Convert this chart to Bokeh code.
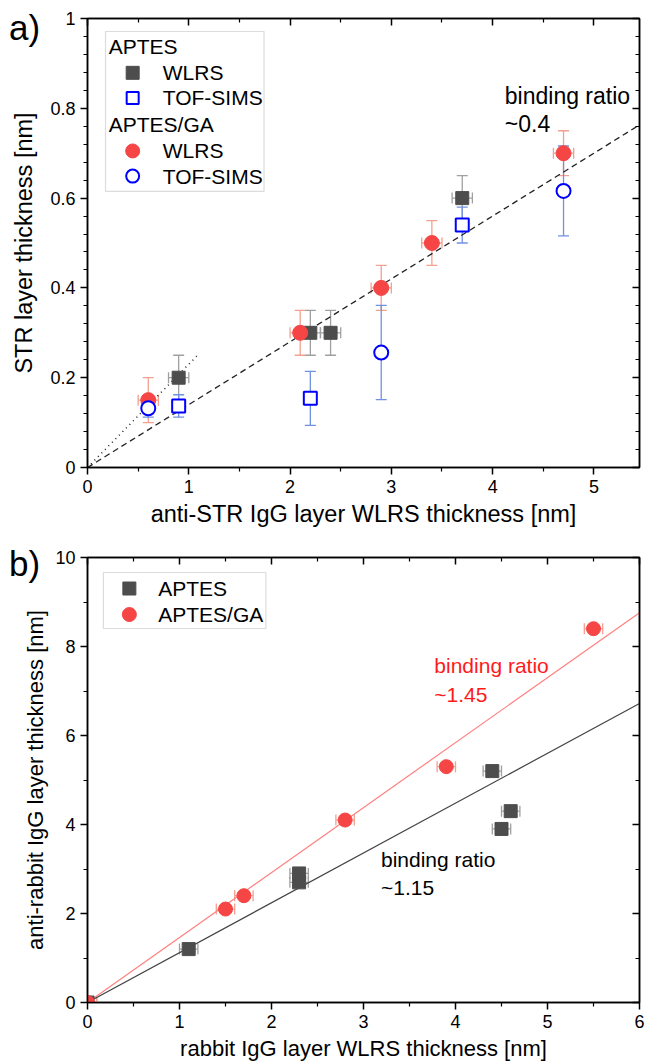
from bokeh.plotting import figure
from bokeh.models import (ColumnDataSource, Whisker, TeeHead, LinearAxis, FixedTicker,
                          Label, BoxAnnotation, Range1d, CustomJSTickFormatter, Div)
from bokeh.layouts import column
from bokeh.embed import file_html
from bokeh.resources import INLINE

FONT = "Liberation Sans"

# ---------------- Panel a data ----------------
aptes_wlrs_x = [0.9, 2.2, 2.4, 3.7]
aptes_wlrs_y = [0.2, 0.3, 0.3, 0.6]
aptes_wlrs_xerr = [0.1, 0.1, 0.1, 0.1]
aptes_wlrs_yerr = [0.05, 0.05, 0.05, 0.05]

aptes_tof_x = [0.9, 2.2, 3.7]
aptes_tof_y = [0.137, 0.154, 0.54]
aptes_tof_yerr = [0.025, 0.06, 0.04]

ga_wlrs_x = [0.6, 2.1, 2.9, 3.4, 4.7]
ga_wlrs_y = [0.15, 0.3, 0.4, 0.5, 0.7]
ga_wlrs_xerr = [0.1, 0.1, 0.1, 0.1, 0.1]
ga_wlrs_yerr = [0.05, 0.05, 0.05, 0.05, 0.05]

ga_tof_x = [0.6, 2.9, 4.7]
ga_tof_y = [0.132, 0.256, 0.616]
ga_tof_yerr = [0.02, 0.105, 0.1]

fit_a_x = [0.0, 5.45]
fit_a_y = [0.0, 0.763]
fit_a2_x = [0.0, 1.1]
fit_a2_y = [0.0, 0.253]

a_xticks = [0, 1, 2, 3, 4, 5]
a_xminor = [0.5, 1.5, 2.5, 3.5, 4.5]
a_yticks = [0, 0.2, 0.4, 0.6, 0.8, 1.0]
a_yminor = [0.04, 0.08, 0.12, 0.16, 0.24, 0.28, 0.32, 0.36, 0.44, 0.48, 0.52, 0.56,
            0.64, 0.68, 0.72, 0.76, 0.84, 0.88, 0.92, 0.96]

# ---------------- Panel b data ----------------
aptes_b_x = [0.0, 1.1, 2.3, 2.3, 4.4, 4.5, 4.6]
aptes_b_y = [0.0, 1.2, 2.7, 2.9, 5.2, 3.9, 4.3]
aptes_b_xerr = [0.1, 0.1, 0.1, 0.1, 0.1, 0.1, 0.1]

ga_b_x = [0.0, 1.5, 1.7, 2.8, 3.9, 5.5]
ga_b_y = [0.0, 2.1, 2.4, 4.1, 5.3, 8.4]
ga_b_xerr = [0.1, 0.1, 0.1, 0.1, 0.1, 0.1]

fit_b_ga_x = [0.0, 6.0]
fit_b_ga_y = [0.0, 8.76]
fit_b_ap_x = [0.0, 6.0]
fit_b_ap_y = [0.0, 6.72]

b_xticks = [0, 1, 2, 3, 4, 5, 6]
b_xminor = [0.5, 1.5, 2.5, 3.5, 4.5, 5.5]
b_yticks = [0, 2, 4, 6, 8, 10]
b_yminor = [1, 3, 5, 7, 9]

GRAY = "#4d4d4d"
GRAY_ERR = "#a0a0a0"
RED = "#f54545"
RED_ERR = "#f2a090"
BLUE = "#0000ff"
BLUE_ERR = "#7090e0"


def style(p, xticks, xminor, yticks, yminor, xlabel, ylabel, title_size, ystandoff):
    xt = FixedTicker(ticks=xticks, minor_ticks=xminor)
    yt = FixedTicker(ticks=yticks, minor_ticks=yminor)
    xa = p.below[0]
    ya = p.left[0]
    xa.ticker = xt
    ya.ticker = yt
    for ax in (xa, ya):
        ax.axis_line_width = 1.5
        ax.major_tick_line_width = 1.5
        ax.minor_tick_line_width = 1.2
        ax.major_tick_in = 0
        ax.major_tick_out = 7
        ax.minor_tick_in = 0
        ax.minor_tick_out = 4
        ax.major_label_text_font = FONT
        ax.major_label_text_font_size = "18px"
        ax.major_label_text_color = "black"
        ax.major_label_standoff = 5
        ax.axis_label_text_font = FONT
        ax.axis_label_text_font_size = title_size
        ax.axis_label_text_font_style = "normal"
        ax.axis_label_text_color = "black"
        ax.axis_label_standoff = 5
    ya.axis_label_standoff = ystandoff
    xa.axis_label = xlabel
    ya.axis_label = ylabel
    for tk, place in ((xt, "above"), (yt, "right")):
        ax = LinearAxis(ticker=tk, formatter=CustomJSTickFormatter(code="return ''"))
        ax.major_label_standoff = 0
        ax.axis_line_width = 1.5
        ax.major_tick_line_width = 1.5
        ax.minor_tick_line_width = 1.2
        ax.major_tick_in = 7
        ax.major_tick_out = 0
        ax.minor_tick_in = 4
        ax.minor_tick_out = 0
        p.add_layout(ax, place)
    p.grid.visible = False
    p.outline_line_color = "black"
    p.outline_line_width = 1.5


def yerr(p, xs, ys, es, color):
    src = ColumnDataSource(dict(x=xs, lo=[y - e for y, e in zip(ys, es)],
                                hi=[y + e for y, e in zip(ys, es)]))
    p.add_layout(Whisker(source=src, base="x", lower="lo", upper="hi", dimension="height",
                         line_color=color, line_width=1.3,
                         upper_head=TeeHead(size=11, line_color=color, line_width=1.3),
                         lower_head=TeeHead(size=11, line_color=color, line_width=1.3)))


def xerr(p, xs, ys, es, color):
    src = ColumnDataSource(dict(y=ys, lo=[x - e for x, e in zip(xs, es)],
                                hi=[x + e for x, e in zip(xs, es)]))
    p.add_layout(Whisker(source=src, base="y", lower="lo", upper="hi", dimension="width",
                         line_color=color, line_width=1.3,
                         upper_head=TeeHead(size=11, line_color=color, line_width=1.3),
                         lower_head=TeeHead(size=11, line_color=color, line_width=1.3)))


def label(p, x, y, text, size, color="black"):
    p.add_layout(Label(x=x, y=y, text=text, text_font=FONT, text_font_size=size,
                       text_color=color, text_baseline="middle", text_align="left"))


def panel_tag(text, left, top):
    return Div(text=text, width=44, height=38,
               styles={"position": "absolute", "left": f"{left}px", "top": f"{top}px",
                       "font-family": FONT, "font-size": "35px", "line-height": "1",
                       "color": "black", "z-index": "10", "margin": "0", "padding": "0"})


# ================= Panel a =================
pa = figure(width=648, height=538, x_range=Range1d(0, 5.45), y_range=Range1d(0, 1),
            output_backend="svg", toolbar_location=None,
            min_border_left=87, min_border_right=9, min_border_top=18, min_border_bottom=71)
style(pa, a_xticks, a_xminor, a_yticks, a_yminor,
      "anti-STR IgG layer WLRS thickness [nm]", "STR layer thickness [nm]", "23.5px", 10)
pa.below[0].major_label_overrides = {0: "0", 1: "1", 2: "2", 3: "3", 4: "4", 5: "5"}
pa.left[0].major_label_overrides = {0: "0", 1: "1"}

pa.line(fit_a_x, fit_a_y, line_color="#222222", line_width=1.3, line_dash="6 4")
pa.line(fit_a2_x, fit_a2_y, line_color="#222222", line_width=1.5, line_dash="1 4")

yerr(pa, aptes_wlrs_x, aptes_wlrs_y, aptes_wlrs_yerr, GRAY_ERR)
xerr(pa, aptes_wlrs_x, aptes_wlrs_y, aptes_wlrs_xerr, GRAY_ERR)
yerr(pa, aptes_tof_x, aptes_tof_y, aptes_tof_yerr, BLUE_ERR)
yerr(pa, ga_wlrs_x, ga_wlrs_y, ga_wlrs_yerr, RED_ERR)
xerr(pa, ga_wlrs_x, ga_wlrs_y, ga_wlrs_xerr, RED_ERR)
yerr(pa, ga_tof_x, ga_tof_y, ga_tof_yerr, BLUE_ERR)

pa.scatter(aptes_wlrs_x, aptes_wlrs_y, marker="square", size=13, fill_color=GRAY, line_color=GRAY)
pa.scatter(aptes_tof_x, aptes_tof_y, marker="square", size=13, fill_color="white",
           line_color=BLUE, line_width=2)
pa.scatter(ga_wlrs_x, ga_wlrs_y, marker="circle", size=15, fill_color=RED, line_color=RED)
pa.scatter(ga_tof_x, ga_tof_y, marker="circle", size=14, fill_color="white",
           line_color=BLUE, line_width=2)

# legend a (manual)
box_a = BoxAnnotation(left=0.178, right=1.743, top=0.971, bottom=0.615, fill_color="white",
                      fill_alpha=1, line_color="#8a8a8a", line_width=1.2, level="underlay")
pa.add_layout(box_a)
leg_a_rows = [0.937, 0.879, 0.823, 0.763, 0.705, 0.649]
label(pa, 0.21, leg_a_rows[0], "APTES", "21px")
pa.scatter([0.446], [leg_a_rows[1]], marker="square", size=13, fill_color=GRAY, line_color=GRAY)
label(pa, 0.743, leg_a_rows[1], "WLRS", "21px")
pa.scatter([0.446], [leg_a_rows[2]], marker="square", size=12, fill_color="white",
           line_color=BLUE, line_width=2)
label(pa, 0.743, leg_a_rows[2], "TOF-SIMS", "21px")
label(pa, 0.21, leg_a_rows[3], "APTES/GA", "21px")
pa.scatter([0.446], [leg_a_rows[4]], marker="circle", size=14, fill_color=RED, line_color=RED)
label(pa, 0.743, leg_a_rows[4], "WLRS", "21px")
pa.scatter([0.446], [leg_a_rows[5]], marker="circle", size=13, fill_color="white",
           line_color=BLUE, line_width=2)
label(pa, 0.743, leg_a_rows[5], "TOF-SIMS", "21px")

label(pa, 4.12, 0.827, "binding ratio", "23px")
label(pa, 4.12, 0.764, "~0.4", "23px")

# ================= Panel b =================
pb = figure(width=648, height=525, x_range=Range1d(0, 6), y_range=Range1d(0, 10),
            output_backend="svg", toolbar_location=None,
            min_border_left=87, min_border_right=9, min_border_top=19, min_border_bottom=58)
style(pb, b_xticks, b_xminor, b_yticks, b_yminor,
      "rabbit IgG layer WLRS thickness [nm]", "anti-rabbit IgG layer thickness [nm]", "22px", 4)

pb.line(fit_b_ga_x, fit_b_ga_y, line_color="#ff8080", line_width=1.2)
pb.line(fit_b_ap_x, fit_b_ap_y, line_color="#444444", line_width=1.2)

xerr(pb, aptes_b_x, aptes_b_y, aptes_b_xerr, GRAY_ERR)
xerr(pb, ga_b_x, ga_b_y, ga_b_xerr, RED_ERR)
pb.scatter(aptes_b_x, aptes_b_y, marker="square", size=13, fill_color=GRAY, line_color=GRAY)
pb.scatter(ga_b_x, ga_b_y, marker="circle", size=14, fill_color=RED, line_color=RED)

box_b = BoxAnnotation(left=0.173, right=1.939, top=9.663, bottom=8.404, fill_color="white",
                      fill_alpha=1, line_color="#8a8a8a", line_width=1.2, level="underlay")
pb.add_layout(box_b)
pb.scatter([0.455], [9.303], marker="square", size=13, fill_color=GRAY, line_color=GRAY)
label(pb, 0.769, 9.303, "APTES", "21px")
pb.scatter([0.455], [8.719], marker="circle", size=14, fill_color=RED, line_color=RED)
label(pb, 0.769, 8.719, "APTES/GA", "21px")

label(pb, 3.77, 7.57, "binding ratio", "21px", "#ff1a1a")
label(pb, 3.77, 6.92, "~1.45", "21px", "#ff1a1a")
label(pb, 3.19, 3.21, "binding ratio", "21px")
label(pb, 3.19, 2.58, "~1.15", "21px")

tag_a = panel_tag("a)", 9, 10)
tag_b = panel_tag("b)", 9, 546)

layout = column(pa, pb, tag_a, tag_b)
open("out.html", "w").write(file_html(layout, INLINE))
